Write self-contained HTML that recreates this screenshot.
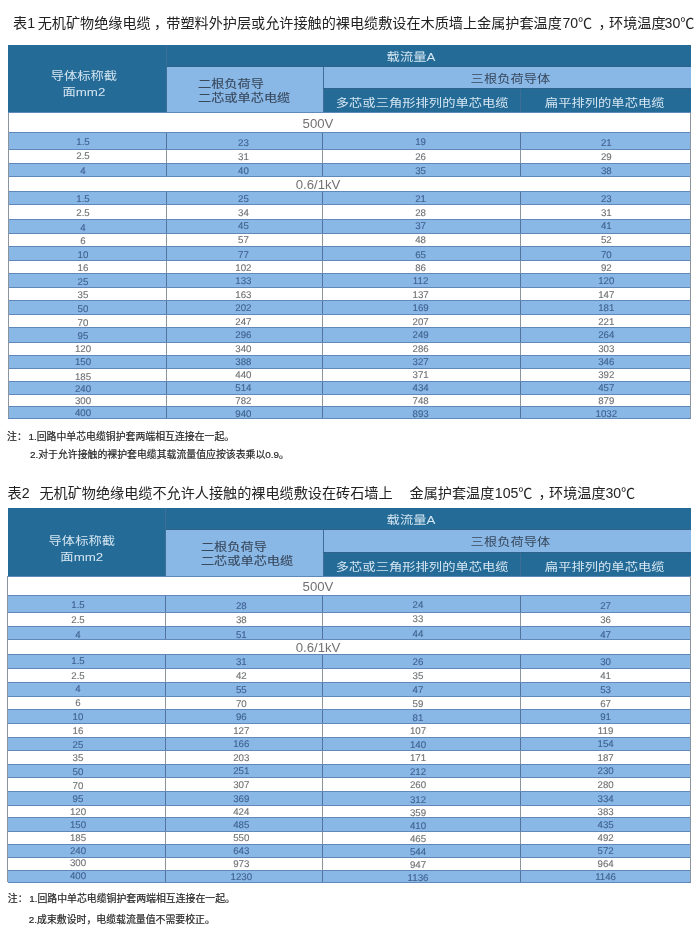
<!DOCTYPE html>
<html lang="zh"><head><meta charset="utf-8"><title>表</title>
<style>
html,body{margin:0;padding:0;background:#fff;}
body{width:700px;height:939px;position:relative;overflow:hidden;font-family:"Liberation Sans","Noto Sans CJK SC",sans-serif;}
#pg{position:absolute;left:0;top:0;width:700px;height:939px;filter:blur(0.45px);}
.b{position:absolute;}
.t{position:absolute;white-space:nowrap;}
.ti{position:absolute;white-space:nowrap;font-size:14.14px;line-height:20px;color:#222;}
.n{position:absolute;white-space:nowrap;font-size:9.9px;line-height:14px;color:#262626;-webkit-text-stroke:0.2px #262626;}
.w{color:#d6e6f2;}
.g{color:#38485c;}
.hc{font-size:13.3px;line-height:18.6px;text-align:center;transform:translateX(-50%) scaleY(0.84);transform-origin:50% 0;}
.hl{-webkit-text-stroke:0.15px #38485c;font-size:13.2px;line-height:16.9px;text-align:left;transform:scaleY(0.84);transform-origin:0 0;}
.h1{font-size:13.3px;line-height:16px;transform:translateX(-50%) scaleY(0.84);transform-origin:50% 0;}
.sec{font-size:13.2px;line-height:14px;color:#727272;transform:translate(-50%,-50%);}
.d{text-rendering:geometricPrecision;font-size:9.7px;line-height:10px;color:#6e7072;-webkit-text-stroke:0.12px currentColor;transform:translate(-50%,-50%);}
.db{color:#40628e;}
</style></head><body><div id="pg">
<div class="ti" style="left:13px;top:13.2px">表1</div>
<div class="ti" style="left:37.7px;top:13.2px">无机矿物绝缘电缆</div>
<div class="ti" style="left:154px;top:13.2px">，</div>
<div class="ti" style="left:166.3px;top:13.2px">带塑料外护层或允许接触的裸电缆敷设在木质墙上金属护套温度</div>
<div class="ti" style="left:562.4px;top:13.2px">70℃</div>
<div class="ti" style="left:598.5px;top:13.2px">，</div>
<div class="ti" style="left:609px;top:13.2px">环境温度</div>
<div class="ti" style="left:664.6px;top:13.2px">30℃</div>
<div class="b" style="left:8.0px;top:44.5px;width:682.6px;height:68.5px;background:#246b97;"></div>
<div class="b" style="left:166.0px;top:66.0px;width:157.4px;height:47.0px;background:#89b8e7;"></div>
<div class="b" style="left:323.4px;top:66.0px;width:367.2px;height:22.8px;background:#89b8e7;"></div>
<div class="b" style="left:165.5px;top:44.5px;width:1.0px;height:68.5px;background:#3f6f96;"></div>
<div class="b" style="left:322.9px;top:66.0px;width:1.0px;height:47.0px;background:#3f6f96;"></div>
<div class="b" style="left:520.1px;top:88.8px;width:1.0px;height:24.2px;background:#3f6f96;"></div>
<div class="b" style="left:166.0px;top:65.5px;width:524.6px;height:1.0px;background:#2f6288;"></div>
<div class="b" style="left:323.4px;top:88.3px;width:367.2px;height:1.0px;background:#2f6288;"></div>
<div class="b" style="left:8.0px;top:133.0px;width:682.6px;height:16.3px;background:#89b8e7;"></div>
<div class="b" style="left:165.5px;top:133.0px;width:1.0px;height:16.3px;background:#52749c;"></div>
<div class="b" style="left:322.1px;top:133.0px;width:1.0px;height:16.3px;background:#52749c;"></div>
<div class="b" style="left:520.1px;top:133.0px;width:1.0px;height:16.3px;background:#52749c;"></div>
<div class="b" style="left:165.5px;top:149.3px;width:1.0px;height:14.9px;background:#8c949c;"></div>
<div class="b" style="left:322.1px;top:149.3px;width:1.0px;height:14.9px;background:#8c949c;"></div>
<div class="b" style="left:520.1px;top:149.3px;width:1.0px;height:14.9px;background:#8c949c;"></div>
<div class="b" style="left:8.0px;top:164.2px;width:682.6px;height:12.2px;background:#89b8e7;"></div>
<div class="b" style="left:165.5px;top:164.2px;width:1.0px;height:12.2px;background:#52749c;"></div>
<div class="b" style="left:322.1px;top:164.2px;width:1.0px;height:12.2px;background:#52749c;"></div>
<div class="b" style="left:520.1px;top:164.2px;width:1.0px;height:12.2px;background:#52749c;"></div>
<div class="b" style="left:8.0px;top:191.3px;width:682.6px;height:13.4px;background:#89b8e7;"></div>
<div class="b" style="left:165.5px;top:191.3px;width:1.0px;height:13.4px;background:#52749c;"></div>
<div class="b" style="left:322.1px;top:191.3px;width:1.0px;height:13.4px;background:#52749c;"></div>
<div class="b" style="left:520.1px;top:191.3px;width:1.0px;height:13.4px;background:#52749c;"></div>
<div class="b" style="left:165.5px;top:204.7px;width:1.0px;height:15.0px;background:#8c949c;"></div>
<div class="b" style="left:322.1px;top:204.7px;width:1.0px;height:15.0px;background:#8c949c;"></div>
<div class="b" style="left:520.1px;top:204.7px;width:1.0px;height:15.0px;background:#8c949c;"></div>
<div class="b" style="left:8.0px;top:219.7px;width:682.6px;height:13.6px;background:#89b8e7;"></div>
<div class="b" style="left:165.5px;top:219.7px;width:1.0px;height:13.6px;background:#52749c;"></div>
<div class="b" style="left:322.1px;top:219.7px;width:1.0px;height:13.6px;background:#52749c;"></div>
<div class="b" style="left:520.1px;top:219.7px;width:1.0px;height:13.6px;background:#52749c;"></div>
<div class="b" style="left:165.5px;top:233.3px;width:1.0px;height:13.6px;background:#8c949c;"></div>
<div class="b" style="left:322.1px;top:233.3px;width:1.0px;height:13.6px;background:#8c949c;"></div>
<div class="b" style="left:520.1px;top:233.3px;width:1.0px;height:13.6px;background:#8c949c;"></div>
<div class="b" style="left:8.0px;top:246.9px;width:682.6px;height:13.5px;background:#89b8e7;"></div>
<div class="b" style="left:165.5px;top:246.9px;width:1.0px;height:13.5px;background:#52749c;"></div>
<div class="b" style="left:322.1px;top:246.9px;width:1.0px;height:13.5px;background:#52749c;"></div>
<div class="b" style="left:520.1px;top:246.9px;width:1.0px;height:13.5px;background:#52749c;"></div>
<div class="b" style="left:165.5px;top:260.4px;width:1.0px;height:13.2px;background:#8c949c;"></div>
<div class="b" style="left:322.1px;top:260.4px;width:1.0px;height:13.2px;background:#8c949c;"></div>
<div class="b" style="left:520.1px;top:260.4px;width:1.0px;height:13.2px;background:#8c949c;"></div>
<div class="b" style="left:8.0px;top:273.6px;width:682.6px;height:13.8px;background:#89b8e7;"></div>
<div class="b" style="left:165.5px;top:273.6px;width:1.0px;height:13.8px;background:#52749c;"></div>
<div class="b" style="left:322.1px;top:273.6px;width:1.0px;height:13.8px;background:#52749c;"></div>
<div class="b" style="left:520.1px;top:273.6px;width:1.0px;height:13.8px;background:#52749c;"></div>
<div class="b" style="left:165.5px;top:287.4px;width:1.0px;height:13.3px;background:#8c949c;"></div>
<div class="b" style="left:322.1px;top:287.4px;width:1.0px;height:13.3px;background:#8c949c;"></div>
<div class="b" style="left:520.1px;top:287.4px;width:1.0px;height:13.3px;background:#8c949c;"></div>
<div class="b" style="left:8.0px;top:300.7px;width:682.6px;height:13.6px;background:#89b8e7;"></div>
<div class="b" style="left:165.5px;top:300.7px;width:1.0px;height:13.6px;background:#52749c;"></div>
<div class="b" style="left:322.1px;top:300.7px;width:1.0px;height:13.6px;background:#52749c;"></div>
<div class="b" style="left:520.1px;top:300.7px;width:1.0px;height:13.6px;background:#52749c;"></div>
<div class="b" style="left:165.5px;top:314.3px;width:1.0px;height:13.8px;background:#8c949c;"></div>
<div class="b" style="left:322.1px;top:314.3px;width:1.0px;height:13.8px;background:#8c949c;"></div>
<div class="b" style="left:520.1px;top:314.3px;width:1.0px;height:13.8px;background:#8c949c;"></div>
<div class="b" style="left:8.0px;top:328.1px;width:682.6px;height:14.3px;background:#89b8e7;"></div>
<div class="b" style="left:165.5px;top:328.1px;width:1.0px;height:14.3px;background:#52749c;"></div>
<div class="b" style="left:322.1px;top:328.1px;width:1.0px;height:14.3px;background:#52749c;"></div>
<div class="b" style="left:520.1px;top:328.1px;width:1.0px;height:14.3px;background:#52749c;"></div>
<div class="b" style="left:165.5px;top:342.4px;width:1.0px;height:12.9px;background:#8c949c;"></div>
<div class="b" style="left:322.1px;top:342.4px;width:1.0px;height:12.9px;background:#8c949c;"></div>
<div class="b" style="left:520.1px;top:342.4px;width:1.0px;height:12.9px;background:#8c949c;"></div>
<div class="b" style="left:8.0px;top:355.3px;width:682.6px;height:13.0px;background:#89b8e7;"></div>
<div class="b" style="left:165.5px;top:355.3px;width:1.0px;height:13.0px;background:#52749c;"></div>
<div class="b" style="left:322.1px;top:355.3px;width:1.0px;height:13.0px;background:#52749c;"></div>
<div class="b" style="left:520.1px;top:355.3px;width:1.0px;height:13.0px;background:#52749c;"></div>
<div class="b" style="left:165.5px;top:368.3px;width:1.0px;height:13.3px;background:#8c949c;"></div>
<div class="b" style="left:322.1px;top:368.3px;width:1.0px;height:13.3px;background:#8c949c;"></div>
<div class="b" style="left:520.1px;top:368.3px;width:1.0px;height:13.3px;background:#8c949c;"></div>
<div class="b" style="left:8.0px;top:381.6px;width:682.6px;height:12.7px;background:#89b8e7;"></div>
<div class="b" style="left:165.5px;top:381.6px;width:1.0px;height:12.7px;background:#52749c;"></div>
<div class="b" style="left:322.1px;top:381.6px;width:1.0px;height:12.7px;background:#52749c;"></div>
<div class="b" style="left:520.1px;top:381.6px;width:1.0px;height:12.7px;background:#52749c;"></div>
<div class="b" style="left:165.5px;top:394.3px;width:1.0px;height:12.2px;background:#8c949c;"></div>
<div class="b" style="left:322.1px;top:394.3px;width:1.0px;height:12.2px;background:#8c949c;"></div>
<div class="b" style="left:520.1px;top:394.3px;width:1.0px;height:12.2px;background:#8c949c;"></div>
<div class="b" style="left:8.0px;top:406.5px;width:682.6px;height:11.8px;background:#89b8e7;"></div>
<div class="b" style="left:165.5px;top:406.5px;width:1.0px;height:11.8px;background:#52749c;"></div>
<div class="b" style="left:322.1px;top:406.5px;width:1.0px;height:11.8px;background:#52749c;"></div>
<div class="b" style="left:520.1px;top:406.5px;width:1.0px;height:11.8px;background:#52749c;"></div>
<div class="b" style="left:8.0px;top:112.0px;width:682.6px;height:1.0px;background:#6088b8;"></div>
<div class="b" style="left:8.0px;top:132.0px;width:682.6px;height:1.0px;background:#6088b8;"></div>
<div class="b" style="left:8.0px;top:149.0px;width:682.6px;height:1.0px;background:#6088b8;"></div>
<div class="b" style="left:8.0px;top:163.0px;width:682.6px;height:1.0px;background:#6088b8;"></div>
<div class="b" style="left:8.0px;top:176.0px;width:682.6px;height:1.0px;background:#6088b8;"></div>
<div class="b" style="left:8.0px;top:191.0px;width:682.6px;height:1.0px;background:#6088b8;"></div>
<div class="b" style="left:8.0px;top:204.0px;width:682.6px;height:1.0px;background:#6088b8;"></div>
<div class="b" style="left:8.0px;top:219.0px;width:682.6px;height:1.0px;background:#6088b8;"></div>
<div class="b" style="left:8.0px;top:233.0px;width:682.6px;height:1.0px;background:#6088b8;"></div>
<div class="b" style="left:8.0px;top:246.0px;width:682.6px;height:1.0px;background:#6088b8;"></div>
<div class="b" style="left:8.0px;top:260.0px;width:682.6px;height:1.0px;background:#6088b8;"></div>
<div class="b" style="left:8.0px;top:273.0px;width:682.6px;height:1.0px;background:#6088b8;"></div>
<div class="b" style="left:8.0px;top:287.0px;width:682.6px;height:1.0px;background:#6088b8;"></div>
<div class="b" style="left:8.0px;top:300.0px;width:682.6px;height:1.0px;background:#6088b8;"></div>
<div class="b" style="left:8.0px;top:314.0px;width:682.6px;height:1.0px;background:#6088b8;"></div>
<div class="b" style="left:8.0px;top:327.0px;width:682.6px;height:1.0px;background:#6088b8;"></div>
<div class="b" style="left:8.0px;top:342.0px;width:682.6px;height:1.0px;background:#6088b8;"></div>
<div class="b" style="left:8.0px;top:355.0px;width:682.6px;height:1.0px;background:#6088b8;"></div>
<div class="b" style="left:8.0px;top:368.0px;width:682.6px;height:1.0px;background:#6088b8;"></div>
<div class="b" style="left:8.0px;top:381.0px;width:682.6px;height:1.0px;background:#6088b8;"></div>
<div class="b" style="left:8.0px;top:394.0px;width:682.6px;height:1.0px;background:#6088b8;"></div>
<div class="b" style="left:8.0px;top:406.0px;width:682.6px;height:1.0px;background:#6088b8;"></div>
<div class="b" style="left:8.0px;top:418.0px;width:682.6px;height:1.0px;background:#6088b8;"></div>
<div class="b" style="left:7.5px;top:113.0px;width:1.0px;height:305.3px;background:#8a949e;"></div>
<div class="b" style="left:690.1px;top:113.0px;width:1.0px;height:305.3px;background:#8a949e;"></div>
<div class="t hc w" style="left:83.9px;top:69.2px;">导体标称截<br>面mm2</div>
<div class="t hl g" style="left:198.0px;top:78.3px;">二根负荷导<br>二芯或单芯电缆</div>
<div class="t h1 w" style="left:411.0px;top:51.0px;">载流量A</div>
<div class="t h1 g" style="left:510.5px;top:73.0px;">三根负荷导体</div>
<div class="t h1 w" style="left:422.2px;top:97.4px;">多芯或三角形排列的单芯电缆</div>
<div class="t h1 w" style="left:604.7px;top:97.4px;">扁平排列的单芯电缆</div>
<div class="t sec" style="left:318.0px;top:123.6px;">500V</div>
<div class="t d db" style="left:83.0px;top:142.6px;">1.5</div>
<div class="t d db" style="left:243.4px;top:143.8px;">23</div>
<div class="t d db" style="left:420.6px;top:142.8px;">19</div>
<div class="t d db" style="left:606.3px;top:144.3px;">21</div>
<div class="t d" style="left:83.0px;top:157.4px;">2.5</div>
<div class="t d" style="left:243.4px;top:158.0px;">31</div>
<div class="t d" style="left:420.6px;top:158.0px;">26</div>
<div class="t d" style="left:606.3px;top:158.0px;">29</div>
<div class="t d db" style="left:83.0px;top:172.1px;">4</div>
<div class="t d db" style="left:243.4px;top:172.1px;">40</div>
<div class="t d db" style="left:420.6px;top:172.1px;">35</div>
<div class="t d db" style="left:606.3px;top:172.1px;">38</div>
<div class="t sec" style="left:318.0px;top:184.5px;">0.6/1kV</div>
<div class="t d db" style="left:83.0px;top:200.2px;">1.5</div>
<div class="t d db" style="left:243.4px;top:200.3px;">25</div>
<div class="t d db" style="left:420.6px;top:200.3px;">21</div>
<div class="t d db" style="left:606.3px;top:200.3px;">23</div>
<div class="t d" style="left:83.0px;top:214.4px;">2.5</div>
<div class="t d" style="left:243.4px;top:213.8px;">34</div>
<div class="t d" style="left:420.6px;top:213.8px;">28</div>
<div class="t d" style="left:606.3px;top:213.8px;">31</div>
<div class="t d db" style="left:83.0px;top:228.7px;">4</div>
<div class="t d db" style="left:243.4px;top:227.2px;">45</div>
<div class="t d db" style="left:420.6px;top:227.2px;">37</div>
<div class="t d db" style="left:606.3px;top:227.2px;">41</div>
<div class="t d" style="left:83.0px;top:242.3px;">6</div>
<div class="t d" style="left:243.4px;top:240.7px;">57</div>
<div class="t d" style="left:420.6px;top:240.7px;">48</div>
<div class="t d" style="left:606.3px;top:240.7px;">52</div>
<div class="t d db" style="left:83.0px;top:255.5px;">10</div>
<div class="t d db" style="left:243.4px;top:255.5px;">77</div>
<div class="t d db" style="left:420.6px;top:255.5px;">65</div>
<div class="t d db" style="left:606.3px;top:255.5px;">70</div>
<div class="t d" style="left:83.0px;top:268.7px;">16</div>
<div class="t d" style="left:243.4px;top:269.2px;">102</div>
<div class="t d" style="left:420.6px;top:269.2px;">86</div>
<div class="t d" style="left:606.3px;top:269.2px;">92</div>
<div class="t d db" style="left:83.0px;top:283.3px;">25</div>
<div class="t d db" style="left:243.4px;top:282.3px;">133</div>
<div class="t d db" style="left:420.6px;top:282.3px;">112</div>
<div class="t d db" style="left:606.3px;top:282.3px;">120</div>
<div class="t d" style="left:83.0px;top:296.3px;">35</div>
<div class="t d" style="left:243.4px;top:296.4px;">163</div>
<div class="t d" style="left:420.6px;top:296.4px;">137</div>
<div class="t d" style="left:606.3px;top:296.4px;">147</div>
<div class="t d db" style="left:83.0px;top:309.9px;">50</div>
<div class="t d db" style="left:243.4px;top:309.3px;">202</div>
<div class="t d db" style="left:420.6px;top:309.3px;">169</div>
<div class="t d db" style="left:606.3px;top:309.3px;">181</div>
<div class="t d" style="left:83.0px;top:323.7px;">70</div>
<div class="t d" style="left:243.4px;top:322.5px;">247</div>
<div class="t d" style="left:420.6px;top:322.5px;">207</div>
<div class="t d" style="left:606.3px;top:322.5px;">221</div>
<div class="t d db" style="left:83.0px;top:336.7px;">95</div>
<div class="t d db" style="left:243.4px;top:336.2px;">296</div>
<div class="t d db" style="left:420.6px;top:336.2px;">249</div>
<div class="t d db" style="left:606.3px;top:336.2px;">264</div>
<div class="t d" style="left:83.0px;top:349.8px;">120</div>
<div class="t d" style="left:243.4px;top:349.5px;">340</div>
<div class="t d" style="left:420.6px;top:349.5px;">286</div>
<div class="t d" style="left:606.3px;top:349.5px;">303</div>
<div class="t d db" style="left:83.0px;top:362.6px;">150</div>
<div class="t d db" style="left:243.4px;top:362.6px;">388</div>
<div class="t d db" style="left:420.6px;top:362.6px;">327</div>
<div class="t d db" style="left:606.3px;top:362.6px;">346</div>
<div class="t d" style="left:83.0px;top:378.3px;">185</div>
<div class="t d" style="left:243.4px;top:376.0px;">440</div>
<div class="t d" style="left:420.6px;top:376.0px;">371</div>
<div class="t d" style="left:606.3px;top:376.0px;">392</div>
<div class="t d db" style="left:83.0px;top:390.2px;">240</div>
<div class="t d db" style="left:243.4px;top:388.6px;">514</div>
<div class="t d db" style="left:420.6px;top:388.6px;">434</div>
<div class="t d db" style="left:606.3px;top:388.6px;">457</div>
<div class="t d" style="left:83.0px;top:402.0px;">300</div>
<div class="t d" style="left:243.4px;top:401.7px;">782</div>
<div class="t d" style="left:420.6px;top:401.7px;">748</div>
<div class="t d" style="left:606.3px;top:401.7px;">879</div>
<div class="t d db" style="left:83.0px;top:414.2px;">400</div>
<div class="t d db" style="left:243.4px;top:414.9px;">940</div>
<div class="t d db" style="left:420.6px;top:414.9px;">893</div>
<div class="t d db" style="left:606.3px;top:414.9px;">1032</div>
<div class="b" style="left:7.6px;top:508.0px;width:683.0px;height:68.3px;background:#246b97;"></div>
<div class="b" style="left:165.0px;top:529.3px;width:158.3px;height:47.0px;background:#89b8e7;"></div>
<div class="b" style="left:323.3px;top:529.3px;width:367.3px;height:23.3px;background:#89b8e7;"></div>
<div class="b" style="left:164.5px;top:508.0px;width:1.0px;height:68.3px;background:#3f6f96;"></div>
<div class="b" style="left:322.8px;top:529.3px;width:1.0px;height:47.0px;background:#3f6f96;"></div>
<div class="b" style="left:520.1px;top:552.6px;width:1.0px;height:23.7px;background:#3f6f96;"></div>
<div class="b" style="left:165.0px;top:528.8px;width:525.6px;height:1.0px;background:#2f6288;"></div>
<div class="b" style="left:323.3px;top:552.1px;width:367.3px;height:1.0px;background:#2f6288;"></div>
<div class="b" style="left:7.6px;top:596.0px;width:683.0px;height:16.6px;background:#89b8e7;"></div>
<div class="b" style="left:164.5px;top:596.0px;width:1.0px;height:16.6px;background:#52749c;"></div>
<div class="b" style="left:321.9px;top:596.0px;width:1.0px;height:16.6px;background:#52749c;"></div>
<div class="b" style="left:520.1px;top:596.0px;width:1.0px;height:16.6px;background:#52749c;"></div>
<div class="b" style="left:164.5px;top:612.6px;width:1.0px;height:14.4px;background:#8c949c;"></div>
<div class="b" style="left:321.9px;top:612.6px;width:1.0px;height:14.4px;background:#8c949c;"></div>
<div class="b" style="left:520.1px;top:612.6px;width:1.0px;height:14.4px;background:#8c949c;"></div>
<div class="b" style="left:7.6px;top:627.0px;width:683.0px;height:13.0px;background:#89b8e7;"></div>
<div class="b" style="left:164.5px;top:627.0px;width:1.0px;height:13.0px;background:#52749c;"></div>
<div class="b" style="left:321.9px;top:627.0px;width:1.0px;height:13.0px;background:#52749c;"></div>
<div class="b" style="left:520.1px;top:627.0px;width:1.0px;height:13.0px;background:#52749c;"></div>
<div class="b" style="left:7.6px;top:654.3px;width:683.0px;height:14.0px;background:#89b8e7;"></div>
<div class="b" style="left:164.5px;top:654.3px;width:1.0px;height:14.0px;background:#52749c;"></div>
<div class="b" style="left:321.9px;top:654.3px;width:1.0px;height:14.0px;background:#52749c;"></div>
<div class="b" style="left:520.1px;top:654.3px;width:1.0px;height:14.0px;background:#52749c;"></div>
<div class="b" style="left:164.5px;top:668.3px;width:1.0px;height:14.6px;background:#8c949c;"></div>
<div class="b" style="left:321.9px;top:668.3px;width:1.0px;height:14.6px;background:#8c949c;"></div>
<div class="b" style="left:520.1px;top:668.3px;width:1.0px;height:14.6px;background:#8c949c;"></div>
<div class="b" style="left:7.6px;top:682.9px;width:683.0px;height:13.5px;background:#89b8e7;"></div>
<div class="b" style="left:164.5px;top:682.9px;width:1.0px;height:13.5px;background:#52749c;"></div>
<div class="b" style="left:321.9px;top:682.9px;width:1.0px;height:13.5px;background:#52749c;"></div>
<div class="b" style="left:520.1px;top:682.9px;width:1.0px;height:13.5px;background:#52749c;"></div>
<div class="b" style="left:164.5px;top:696.4px;width:1.0px;height:13.6px;background:#8c949c;"></div>
<div class="b" style="left:321.9px;top:696.4px;width:1.0px;height:13.6px;background:#8c949c;"></div>
<div class="b" style="left:520.1px;top:696.4px;width:1.0px;height:13.6px;background:#8c949c;"></div>
<div class="b" style="left:7.6px;top:710.0px;width:683.0px;height:13.6px;background:#89b8e7;"></div>
<div class="b" style="left:164.5px;top:710.0px;width:1.0px;height:13.6px;background:#52749c;"></div>
<div class="b" style="left:321.9px;top:710.0px;width:1.0px;height:13.6px;background:#52749c;"></div>
<div class="b" style="left:520.1px;top:710.0px;width:1.0px;height:13.6px;background:#52749c;"></div>
<div class="b" style="left:164.5px;top:723.6px;width:1.0px;height:13.8px;background:#8c949c;"></div>
<div class="b" style="left:321.9px;top:723.6px;width:1.0px;height:13.8px;background:#8c949c;"></div>
<div class="b" style="left:520.1px;top:723.6px;width:1.0px;height:13.8px;background:#8c949c;"></div>
<div class="b" style="left:7.6px;top:737.4px;width:683.0px;height:13.3px;background:#89b8e7;"></div>
<div class="b" style="left:164.5px;top:737.4px;width:1.0px;height:13.3px;background:#52749c;"></div>
<div class="b" style="left:321.9px;top:737.4px;width:1.0px;height:13.3px;background:#52749c;"></div>
<div class="b" style="left:520.1px;top:737.4px;width:1.0px;height:13.3px;background:#52749c;"></div>
<div class="b" style="left:164.5px;top:750.7px;width:1.0px;height:13.6px;background:#8c949c;"></div>
<div class="b" style="left:321.9px;top:750.7px;width:1.0px;height:13.6px;background:#8c949c;"></div>
<div class="b" style="left:520.1px;top:750.7px;width:1.0px;height:13.6px;background:#8c949c;"></div>
<div class="b" style="left:7.6px;top:764.3px;width:683.0px;height:13.6px;background:#89b8e7;"></div>
<div class="b" style="left:164.5px;top:764.3px;width:1.0px;height:13.6px;background:#52749c;"></div>
<div class="b" style="left:321.9px;top:764.3px;width:1.0px;height:13.6px;background:#52749c;"></div>
<div class="b" style="left:520.1px;top:764.3px;width:1.0px;height:13.6px;background:#52749c;"></div>
<div class="b" style="left:164.5px;top:777.9px;width:1.0px;height:13.5px;background:#8c949c;"></div>
<div class="b" style="left:321.9px;top:777.9px;width:1.0px;height:13.5px;background:#8c949c;"></div>
<div class="b" style="left:520.1px;top:777.9px;width:1.0px;height:13.5px;background:#8c949c;"></div>
<div class="b" style="left:7.6px;top:791.4px;width:683.0px;height:14.6px;background:#89b8e7;"></div>
<div class="b" style="left:164.5px;top:791.4px;width:1.0px;height:14.6px;background:#52749c;"></div>
<div class="b" style="left:321.9px;top:791.4px;width:1.0px;height:14.6px;background:#52749c;"></div>
<div class="b" style="left:520.1px;top:791.4px;width:1.0px;height:14.6px;background:#52749c;"></div>
<div class="b" style="left:164.5px;top:806.0px;width:1.0px;height:12.2px;background:#8c949c;"></div>
<div class="b" style="left:321.9px;top:806.0px;width:1.0px;height:12.2px;background:#8c949c;"></div>
<div class="b" style="left:520.1px;top:806.0px;width:1.0px;height:12.2px;background:#8c949c;"></div>
<div class="b" style="left:7.6px;top:818.2px;width:683.0px;height:13.4px;background:#89b8e7;"></div>
<div class="b" style="left:164.5px;top:818.2px;width:1.0px;height:13.4px;background:#52749c;"></div>
<div class="b" style="left:321.9px;top:818.2px;width:1.0px;height:13.4px;background:#52749c;"></div>
<div class="b" style="left:520.1px;top:818.2px;width:1.0px;height:13.4px;background:#52749c;"></div>
<div class="b" style="left:164.5px;top:831.6px;width:1.0px;height:13.3px;background:#8c949c;"></div>
<div class="b" style="left:321.9px;top:831.6px;width:1.0px;height:13.3px;background:#8c949c;"></div>
<div class="b" style="left:520.1px;top:831.6px;width:1.0px;height:13.3px;background:#8c949c;"></div>
<div class="b" style="left:7.6px;top:844.9px;width:683.0px;height:12.8px;background:#89b8e7;"></div>
<div class="b" style="left:164.5px;top:844.9px;width:1.0px;height:12.8px;background:#52749c;"></div>
<div class="b" style="left:321.9px;top:844.9px;width:1.0px;height:12.8px;background:#52749c;"></div>
<div class="b" style="left:520.1px;top:844.9px;width:1.0px;height:12.8px;background:#52749c;"></div>
<div class="b" style="left:164.5px;top:857.7px;width:1.0px;height:12.6px;background:#8c949c;"></div>
<div class="b" style="left:321.9px;top:857.7px;width:1.0px;height:12.6px;background:#8c949c;"></div>
<div class="b" style="left:520.1px;top:857.7px;width:1.0px;height:12.6px;background:#8c949c;"></div>
<div class="b" style="left:7.6px;top:870.3px;width:683.0px;height:12.1px;background:#89b8e7;"></div>
<div class="b" style="left:164.5px;top:870.3px;width:1.0px;height:12.1px;background:#52749c;"></div>
<div class="b" style="left:321.9px;top:870.3px;width:1.0px;height:12.1px;background:#52749c;"></div>
<div class="b" style="left:520.1px;top:870.3px;width:1.0px;height:12.1px;background:#52749c;"></div>
<div class="b" style="left:7.6px;top:576.0px;width:683.0px;height:1.0px;background:#6088b8;"></div>
<div class="b" style="left:7.6px;top:595.0px;width:683.0px;height:1.0px;background:#6088b8;"></div>
<div class="b" style="left:7.6px;top:612.0px;width:683.0px;height:1.0px;background:#6088b8;"></div>
<div class="b" style="left:7.6px;top:626.0px;width:683.0px;height:1.0px;background:#6088b8;"></div>
<div class="b" style="left:7.6px;top:639.0px;width:683.0px;height:1.0px;background:#6088b8;"></div>
<div class="b" style="left:7.6px;top:654.0px;width:683.0px;height:1.0px;background:#6088b8;"></div>
<div class="b" style="left:7.6px;top:668.0px;width:683.0px;height:1.0px;background:#6088b8;"></div>
<div class="b" style="left:7.6px;top:682.0px;width:683.0px;height:1.0px;background:#6088b8;"></div>
<div class="b" style="left:7.6px;top:696.0px;width:683.0px;height:1.0px;background:#6088b8;"></div>
<div class="b" style="left:7.6px;top:709.0px;width:683.0px;height:1.0px;background:#6088b8;"></div>
<div class="b" style="left:7.6px;top:723.0px;width:683.0px;height:1.0px;background:#6088b8;"></div>
<div class="b" style="left:7.6px;top:737.0px;width:683.0px;height:1.0px;background:#6088b8;"></div>
<div class="b" style="left:7.6px;top:750.0px;width:683.0px;height:1.0px;background:#6088b8;"></div>
<div class="b" style="left:7.6px;top:764.0px;width:683.0px;height:1.0px;background:#6088b8;"></div>
<div class="b" style="left:7.6px;top:777.0px;width:683.0px;height:1.0px;background:#6088b8;"></div>
<div class="b" style="left:7.6px;top:791.0px;width:683.0px;height:1.0px;background:#6088b8;"></div>
<div class="b" style="left:7.6px;top:805.0px;width:683.0px;height:1.0px;background:#6088b8;"></div>
<div class="b" style="left:7.6px;top:817.0px;width:683.0px;height:1.0px;background:#6088b8;"></div>
<div class="b" style="left:7.6px;top:831.0px;width:683.0px;height:1.0px;background:#6088b8;"></div>
<div class="b" style="left:7.6px;top:844.0px;width:683.0px;height:1.0px;background:#6088b8;"></div>
<div class="b" style="left:7.6px;top:857.0px;width:683.0px;height:1.0px;background:#6088b8;"></div>
<div class="b" style="left:7.6px;top:870.0px;width:683.0px;height:1.0px;background:#6088b8;"></div>
<div class="b" style="left:7.6px;top:882.0px;width:683.0px;height:1.0px;background:#6088b8;"></div>
<div class="b" style="left:7.1px;top:576.3px;width:1.0px;height:306.1px;background:#8a949e;"></div>
<div class="b" style="left:690.1px;top:576.3px;width:1.0px;height:306.1px;background:#8a949e;"></div>
<div class="t hc w" style="left:81.8px;top:534.2px;">导体标称截<br>面mm2</div>
<div class="t hl g" style="left:200.9px;top:541.4px;">二根负荷导<br>二芯或单芯电缆</div>
<div class="t h1 w" style="left:411.0px;top:514.4px;">载流量A</div>
<div class="t h1 g" style="left:510.5px;top:536.4px;">三根负荷导体</div>
<div class="t h1 w" style="left:422.2px;top:560.8px;">多芯或三角形排列的单芯电缆</div>
<div class="t h1 w" style="left:604.7px;top:560.8px;">扁平排列的单芯电缆</div>
<div class="t sec" style="left:318.0px;top:586.8px;">500V</div>
<div class="t d db" style="left:78.0px;top:606.3px;">1.5</div>
<div class="t d db" style="left:241.3px;top:606.5px;">28</div>
<div class="t d db" style="left:418.0px;top:606.1px;">24</div>
<div class="t d db" style="left:605.6px;top:606.5px;">27</div>
<div class="t d" style="left:78.0px;top:621.2px;">2.5</div>
<div class="t d" style="left:241.3px;top:621.1px;">38</div>
<div class="t d" style="left:418.0px;top:620.1px;">33</div>
<div class="t d" style="left:605.6px;top:621.1px;">36</div>
<div class="t d db" style="left:78.0px;top:636.2px;">4</div>
<div class="t d db" style="left:241.3px;top:635.6px;">51</div>
<div class="t d db" style="left:418.0px;top:635.3px;">44</div>
<div class="t d db" style="left:605.6px;top:635.6px;">47</div>
<div class="t sec" style="left:318.0px;top:647.8px;">0.6/1kV</div>
<div class="t d db" style="left:78.0px;top:662.3px;">1.5</div>
<div class="t d db" style="left:241.3px;top:663.1px;">31</div>
<div class="t d db" style="left:418.0px;top:663.1px;">26</div>
<div class="t d db" style="left:605.6px;top:663.1px;">30</div>
<div class="t d" style="left:78.0px;top:677.0px;">2.5</div>
<div class="t d" style="left:241.3px;top:677.1px;">42</div>
<div class="t d" style="left:418.0px;top:677.4px;">35</div>
<div class="t d" style="left:605.6px;top:677.1px;">41</div>
<div class="t d db" style="left:78.0px;top:690.3px;">4</div>
<div class="t d db" style="left:241.3px;top:690.9px;">55</div>
<div class="t d db" style="left:418.0px;top:691.4px;">47</div>
<div class="t d db" style="left:605.6px;top:690.9px;">53</div>
<div class="t d" style="left:78.0px;top:704.2px;">6</div>
<div class="t d" style="left:241.3px;top:704.5px;">70</div>
<div class="t d" style="left:418.0px;top:705.0px;">59</div>
<div class="t d" style="left:605.6px;top:704.5px;">67</div>
<div class="t d db" style="left:78.0px;top:717.9px;">10</div>
<div class="t d db" style="left:241.3px;top:718.1px;">96</div>
<div class="t d db" style="left:418.0px;top:718.6px;">81</div>
<div class="t d db" style="left:605.6px;top:718.1px;">91</div>
<div class="t d" style="left:78.0px;top:732.0px;">16</div>
<div class="t d" style="left:241.3px;top:731.8px;">127</div>
<div class="t d" style="left:418.0px;top:732.3px;">107</div>
<div class="t d" style="left:605.6px;top:731.8px;">119</div>
<div class="t d db" style="left:78.0px;top:745.6px;">25</div>
<div class="t d db" style="left:241.3px;top:745.3px;">166</div>
<div class="t d db" style="left:418.0px;top:745.8px;">140</div>
<div class="t d db" style="left:605.6px;top:745.3px;">154</div>
<div class="t d" style="left:78.0px;top:759.2px;">35</div>
<div class="t d" style="left:241.3px;top:758.8px;">203</div>
<div class="t d" style="left:418.0px;top:759.3px;">171</div>
<div class="t d" style="left:605.6px;top:758.8px;">187</div>
<div class="t d db" style="left:78.0px;top:773.0px;">50</div>
<div class="t d db" style="left:241.3px;top:772.4px;">251</div>
<div class="t d db" style="left:418.0px;top:772.9px;">212</div>
<div class="t d db" style="left:605.6px;top:772.4px;">230</div>
<div class="t d" style="left:78.0px;top:786.7px;">70</div>
<div class="t d" style="left:241.3px;top:785.9px;">307</div>
<div class="t d" style="left:418.0px;top:786.4px;">260</div>
<div class="t d" style="left:605.6px;top:785.9px;">280</div>
<div class="t d db" style="left:78.0px;top:800.2px;">95</div>
<div class="t d db" style="left:241.3px;top:800.0px;">369</div>
<div class="t d db" style="left:418.0px;top:801.3px;">312</div>
<div class="t d db" style="left:605.6px;top:800.0px;">334</div>
<div class="t d" style="left:78.0px;top:813.0px;">120</div>
<div class="t d" style="left:241.3px;top:813.4px;">424</div>
<div class="t d" style="left:418.0px;top:813.9px;">359</div>
<div class="t d" style="left:605.6px;top:813.4px;">383</div>
<div class="t d db" style="left:78.0px;top:825.9px;">150</div>
<div class="t d db" style="left:241.3px;top:826.2px;">485</div>
<div class="t d db" style="left:418.0px;top:826.7px;">410</div>
<div class="t d db" style="left:605.6px;top:826.2px;">435</div>
<div class="t d" style="left:78.0px;top:838.7px;">185</div>
<div class="t d" style="left:241.3px;top:839.0px;">550</div>
<div class="t d" style="left:418.0px;top:840.0px;">465</div>
<div class="t d" style="left:605.6px;top:839.0px;">492</div>
<div class="t d db" style="left:78.0px;top:851.9px;">240</div>
<div class="t d db" style="left:241.3px;top:851.9px;">643</div>
<div class="t d db" style="left:418.0px;top:853.1px;">544</div>
<div class="t d db" style="left:605.6px;top:851.9px;">572</div>
<div class="t d" style="left:78.0px;top:864.4px;">300</div>
<div class="t d" style="left:241.3px;top:865.3px;">973</div>
<div class="t d" style="left:418.0px;top:865.8px;">947</div>
<div class="t d" style="left:605.6px;top:865.3px;">964</div>
<div class="t d db" style="left:78.0px;top:877.3px;">400</div>
<div class="t d db" style="left:241.3px;top:878.1px;">1230</div>
<div class="t d db" style="left:418.0px;top:879.0px;">1136</div>
<div class="t d db" style="left:605.6px;top:878.1px;">1146</div>
<div class="n" style="left:7px;top:429.6px">注：</div><div class="n" style="left:28.4px;top:429.6px">1.回路中单芯电缆铜护套两端相互连接在一起。</div>
<div class="n" style="left:30px;top:447.7px">2.对于允许接触的裸护套电缆其载流量值应按该表乘以0.9。</div>
<div class="ti" style="left:7.5px;top:483px">表2</div>
<div class="ti" style="left:39.4px;top:483px">无机矿物绝缘电缆不允许人接触的裸电缆敷设在砖石墙上</div>
<div class="ti" style="left:409.6px;top:483px">金属护套温度</div>
<div class="ti" style="left:494.8px;top:483px">105℃</div>
<div class="ti" style="left:538.5px;top:483px">，</div>
<div class="ti" style="left:549.1px;top:483px">环境温度</div>
<div class="ti" style="left:605.4px;top:483px">30℃</div>
<div class="n" style="left:7.8px;top:892.2px">注：</div><div class="n" style="left:29.2px;top:892.2px">1.回路中单芯电缆铜护套两端相互连接在一起。</div>
<div class="n" style="left:28.8px;top:912.6px">2.成束敷设时，电缆载流量值不需要校正。</div>
</div></body></html>
